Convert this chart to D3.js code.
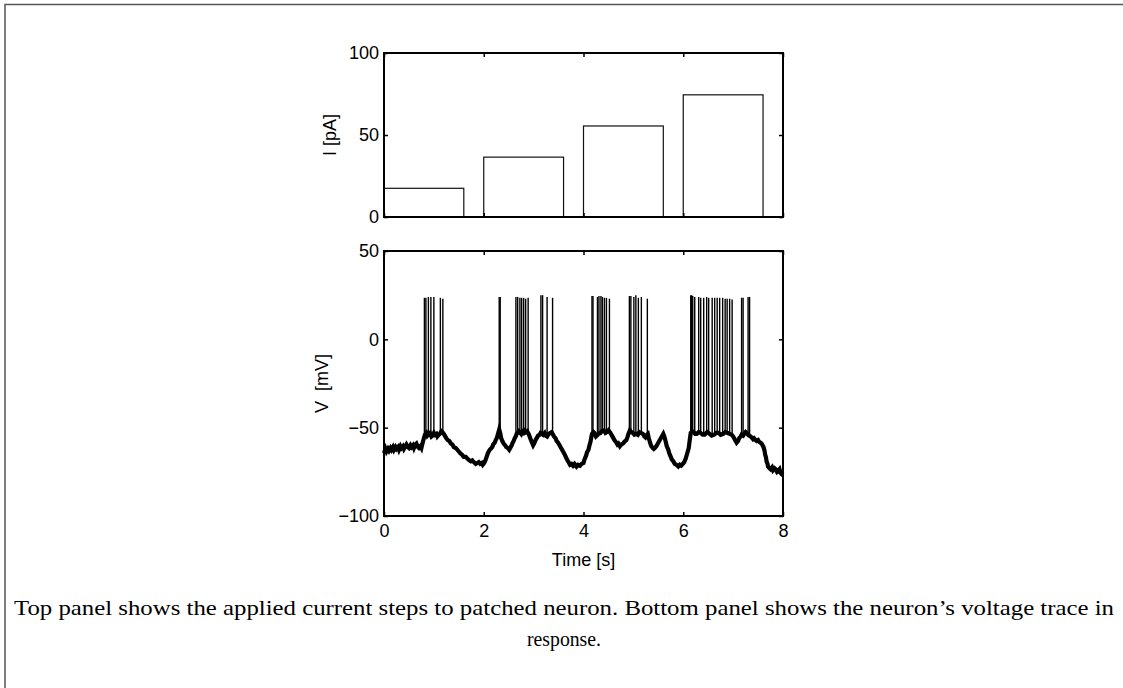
<!DOCTYPE html>
<html>
<head>
<meta charset="utf-8">
<script src="https://cdn.jsdelivr.net/npm/d3@7"></script>
<style>
  body { margin: 0; background: #fff; }
  svg { display: block; }
  text { font-family: "Liberation Sans", Arial, sans-serif; }
</style>
</head>
<body>
<svg id="chart"></svg>
<script>
const width = 1123;
const height = 688;

// Current steps (top panel)
const stepStart = [0, 2, 4, 6];
const stepEnd = [1.6, 3.6, 5.6, 7.6];
const stepCurrent = [17.5, 36.5, 55.5, 74.5];

// Tick values
const timeTicks = [0, 2, 4, 6, 8];
const currentTicks = [0, 50, 100];
const voltTicks = [-100, -50, 0, 50];

// Membrane voltage trace: [time s, voltage mV]
const baseline = [
  [0, -64.5], [0.03, -62], [0.05, -63.5], [0.08, -62], [0.1, -63], [0.13, -61.5], [0.15, -62.5],
  [0.18, -61], [0.2, -62.5], [0.23, -61], [0.25, -62], [0.28, -61], [0.3, -62.5], [0.33, -60.5],
  [0.35, -61.5], [0.38, -60.5], [0.4, -62], [0.43, -60.5], [0.45, -59.5], [0.48, -61], [0.5, -61.5],
  [0.53, -60], [0.55, -61], [0.58, -60], [0.6, -61.5], [0.63, -59.5], [0.65, -59], [0.68, -61],
  [0.7, -61.5], [0.73, -60.5], [0.75, -61.5], [0.78, -58], [0.82, -54], [0.85, -53],
  [0.87, -54.5], [0.9, -53.5], [0.92, -53], [0.95, -55], [0.97, -54.5], [1.0, -53], [1.02, -54],
  [1.05, -53.5], [1.07, -55], [1.1, -54], [1.12, -53.5], [1.15, -52], [1.17, -52.5], [1.2, -53.5],
  [1.22, -54.5], [1.25, -56], [1.28, -57], [1.31, -57.5], [1.34, -59], [1.37, -59.5], [1.40, -61],
  [1.44, -61.5], [1.47, -62.5], [1.50, -63.5], [1.53, -64.5], [1.57, -65.5], [1.60, -66.5],
  [1.64, -66.5], [1.67, -67.5], [1.71, -68.5], [1.74, -69], [1.77, -68.5], [1.80, -69.5],
  [1.84, -70.5], [1.87, -70], [1.90, -69.5], [1.93, -70.5], [1.96, -70], [1.98, -71],
  [2.01, -70], [2.04, -68], [2.07, -65.5], [2.09, -64], [2.12, -62.5], [2.14, -62], [2.17, -61],
  [2.19, -59.5], [2.22, -58.5], [2.24, -57], [2.26, -56], [2.28, -54], [2.31, -51], [2.33, -53],
  [2.35, -56], [2.38, -58], [2.40, -59], [2.43, -60], [2.45, -61], [2.48, -61.5],
  [2.51, -62.5], [2.54, -61], [2.56, -60], [2.58, -58.5], [2.60, -57.5], [2.62, -56], [2.64, -55],
  [2.66, -53.5], [2.68, -53], [2.70, -52], [2.72, -52.5], [2.75, -53.5], [2.77, -52], [2.80, -51.5],
  [2.82, -53], [2.85, -52.5], [2.87, -52], [2.90, -53.5], [2.92, -55], [2.94, -56.5], [2.96, -58],
  [2.99, -60], [3.01, -59], [3.04, -57], [3.07, -55.5], [3.09, -54.5], [3.12, -54], [3.14, -53],
  [3.17, -53.5], [3.19, -54], [3.22, -53], [3.24, -54.5], [3.27, -55], [3.30, -53.5], [3.33, -53],
  [3.36, -52.5], [3.38, -53.5], [3.41, -55], [3.44, -56], [3.46, -57.5], [3.49, -58.5], [3.52, -60],
  [3.55, -61.5], [3.59, -63.5], [3.62, -65], [3.66, -67.5], [3.69, -69], [3.73, -71], [3.76, -70.5],
  [3.79, -71.5], [3.82, -70.5], [3.86, -72], [3.89, -71], [3.93, -71.5], [3.96, -70.5], [4.00, -70],
  [4.02, -68], [4.05, -66], [4.07, -64], [4.10, -62.5], [4.12, -60], [4.14, -58], [4.16, -55],
  [4.17, -53.5], [4.20, -52.5], [4.22, -53], [4.25, -55], [4.27, -54.5], [4.30, -53.5], [4.34, -53],
  [4.37, -52], [4.41, -51.5], [4.44, -53], [4.47, -52.5], [4.50, -51.5], [4.54, -53], [4.57, -54.5],
  [4.59, -55.5], [4.61, -56.5], [4.63, -57.5], [4.66, -58.5], [4.68, -59.5], [4.70, -59],
  [4.73, -60.5], [4.76, -59.5], [4.79, -59], [4.82, -58], [4.86, -57], [4.88, -55.5], [4.90, -53.5],
  [4.93, -51.5], [4.96, -52.5], [4.99, -53], [5.02, -54], [5.06, -53.5], [5.09, -54], [5.12, -52.5],
  [5.15, -53], [5.19, -53.5], [5.22, -55], [5.24, -55.5], [5.27, -54], [5.29, -53.5], [5.31, -56],
  [5.34, -59], [5.36, -60.5], [5.39, -61.5], [5.41, -62], [5.43, -61.5], [5.46, -60.5], [5.48, -59.5],
  [5.51, -58], [5.53, -57], [5.55, -56], [5.57, -55], [5.60, -53.5], [5.62, -55], [5.64, -57],
  [5.67, -60.5], [5.70, -62.5], [5.72, -64.5], [5.75, -66.5], [5.77, -68], [5.80, -69],
  [5.83, -70.5], [5.86, -71], [5.90, -72], [5.93, -71], [5.96, -71.5], [5.99, -70.5], [6.02, -69.5],
  [6.05, -67.5], [6.07, -65.5], [6.09, -63.5], [6.11, -61.5], [6.13, -57], [6.15, -53], [6.18, -52],
  [6.21, -52.5], [6.24, -53.5], [6.27, -53.5], [6.31, -52.5], [6.35, -53], [6.39, -54], [6.43, -54],
  [6.48, -52.5], [6.53, -53.5], [6.57, -54.5], [6.62, -54], [6.66, -53], [6.71, -53], [6.75, -54],
  [6.80, -53.5], [6.84, -52.5], [6.89, -53], [6.93, -53.5], [6.97, -54], [7.00, -55], [7.02, -56],
  [7.05, -57.5], [7.07, -58.5], [7.10, -57.5], [7.12, -56], [7.15, -55], [7.17, -54], [7.20, -54.5],
  [7.22, -53.5], [7.25, -52.5], [7.27, -53], [7.30, -54], [7.32, -54.5], [7.35, -55], [7.37, -55.5],
  [7.40, -56.5], [7.42, -56], [7.45, -57], [7.47, -57.5], [7.50, -57], [7.52, -58], [7.55, -58.5],
  [7.57, -59], [7.59, -60], [7.61, -61], [7.63, -63], [7.64, -65], [7.66, -67], [7.67, -69],
  [7.69, -70.5], [7.70, -72], [7.73, -73], [7.75, -73.5], [7.78, -72.5], [7.80, -74], [7.83, -73],
  [7.85, -73.5], [7.88, -75], [7.90, -74.5], [7.93, -73.5], [7.95, -75.5], [7.98, -76.5], [8.0, -77]
];

// Action potentials: time and peak voltage
const spikeTimes = [
  0.81, 0.84, 0.89, 0.94, 1.00, 1.13, 1.18,
  2.31, 2.33,
  2.645, 2.68, 2.725, 2.76, 2.80, 2.84, 2.89,
  3.146, 3.18, 3.27, 3.38,
  4.17, 4.19, 4.28, 4.31, 4.35, 4.38, 4.42, 4.46, 4.52,
  4.92, 4.95, 5.01, 5.05, 5.10, 5.16, 5.28,
  6.15, 6.17, 6.19, 6.23, 6.31, 6.35, 6.41, 6.47, 6.51, 6.58, 6.63, 6.68, 6.73, 6.79, 6.84, 6.88, 6.93, 6.98,
  7.17, 7.20, 7.30, 7.33
];
const spikePeaks = [
  23.5, 23.5, 24, 24, 24, 23.5, 23,
  24, 24,
  24, 24, 23.5, 23.5, 23.5, 23, 23.5,
  25, 25, 24, 23.5,
  24.5, 24.5, 24, 24.5, 24.5, 24, 23.5, 23.5, 23,
  24.5, 24.5, 24, 25, 23.5, 24, 23,
  25, 25, 24.5, 24, 24, 23.5, 23.5, 24, 23.5, 23.5, 23.5, 23.5, 23.5, 23.5, 23, 23, 23, 22.5,
  23.5, 23.5, 24, 24
];

const svg = d3.select("#chart")
    .attr("width", width)
    .attr("height", height);

// Page frame
svg.append("path")
    .attr("d", "M5,688 V4.5 H1123")
    .attr("fill", "none")
    .attr("stroke", "#555")
    .attr("stroke-width", 1.5);

const x = d3.scaleLinear().domain([0, 8]).range([384, 783]);
const yI = d3.scaleLinear().domain([0, 100]).range([217, 53]);
const yV = d3.scaleLinear().domain([-100, 50]).range([516, 251]);

const tickFont = 18;

// ---------- top panel: current steps ----------
const topPanel = svg.append("g");

topPanel.selectAll("rect.step")
    .data(stepCurrent)
    .enter()
    .append("rect")
    .attr("class", "step")
    .attr("x", (d, i) => x(stepStart[i]))
    .attr("width", (d, i) => x(stepEnd[i]) - x(stepStart[i]))
    .attr("y", d => yI(d))
    .attr("height", d => yI(0) - yI(d))
    .attr("fill", "none")
    .attr("stroke", "#111")
    .attr("stroke-width", 1.2);

function boxAxes(g, yScale, yTicks, showX) {
    const [x0, x1] = x.range();
    const [yb, yt] = yScale.range();

    g.append("g")
        .attr("transform", `translate(${x0},0)`)
        .call(d3.axisLeft(yScale).tickValues(yTicks).tickSizeInner(-4).tickSizeOuter(0).tickPadding(5))
        .call(a => a.select(".domain").remove())
        .call(a => a.selectAll("text").attr("font-size", tickFont).attr("font-family", "Liberation Sans").attr("fill", "#000"));

    g.append("g")
        .attr("transform", `translate(${x1},0)`)
        .call(d3.axisRight(yScale).tickValues(yTicks).tickSizeInner(-4).tickSizeOuter(0).tickFormat(""))
        .call(a => a.select(".domain").remove());

    const bottom = g.append("g")
        .attr("transform", `translate(0,${yb})`)
        .call(d3.axisBottom(x).tickValues(timeTicks).tickSizeInner(-4).tickSizeOuter(0).tickPadding(8)
            .tickFormat(showX ? d3.format("d") : ""))
        .call(a => a.select(".domain").remove());
    bottom.selectAll("text").attr("font-size", tickFont).attr("font-family", "Liberation Sans").attr("fill", "#000");

    g.append("g")
        .attr("transform", `translate(0,${yt})`)
        .call(d3.axisTop(x).tickValues(timeTicks).tickSizeInner(-4).tickSizeOuter(0).tickFormat(""))
        .call(a => a.select(".domain").remove());

    g.selectAll(".tick line").attr("stroke", "#000").attr("stroke-width", 1.5);

    g.append("rect")
        .attr("x", x0).attr("y", yt)
        .attr("width", x1 - x0).attr("height", yb - yt)
        .attr("fill", "none")
        .attr("stroke", "#000")
        .attr("stroke-width", 2);
}

boxAxes(topPanel, yI, currentTicks, false);

topPanel.append("text")
    .attr("transform", `translate(336,${(yI(0) + yI(100)) / 2}) rotate(-90)`)
    .attr("text-anchor", "middle")
    .attr("font-size", tickFont)
    .text("I [pA]");

// ---------- bottom panel: voltage trace ----------
const botPanel = svg.append("g");

const line = d3.line()
    .x(d => x(d[0]))
    .y(d => yV(d[1]));

botPanel.append("path")
    .datum(baseline)
    .attr("d", line)
    .attr("fill", "none")
    .attr("stroke", "#000")
    .attr("stroke-width", 4.2)
    .attr("stroke-linejoin", "miter");

// spike foot sits on the trace at that time
const traceAt = d3.scaleLinear()
    .domain(baseline.map(d => d[0]))
    .range(baseline.map(d => d[1]));

botPanel.selectAll("line.spike")
    .data(spikeTimes)
    .enter()
    .append("line")
    .attr("class", "spike")
    .attr("x1", d => x(d))
    .attr("x2", d => x(d))
    .attr("y1", d => yV(traceAt(d)))
    .attr("y2", (d, i) => yV(spikePeaks[i]))
    .attr("stroke", "#000")
    .attr("stroke-width", 1.4);

boxAxes(botPanel, yV, voltTicks, true);

botPanel.append("text")
    .attr("transform", `translate(328,${(yV(-100) + yV(50)) / 2}) rotate(-90)`)
    .attr("text-anchor", "middle")
    .attr("font-size", tickFont)
    .style("white-space", "pre")
    .text("V  [mV]");

botPanel.append("text")
    .attr("x", (x(0) + x(8)) / 2)
    .attr("y", 566)
    .attr("text-anchor", "middle")
    .attr("font-size", tickFont)
    .text("Time [s]");

// ---------- caption ----------
const caption = svg.append("g")
    .attr("font-size", 21);

caption.append("text")
    .attr("x", 14)
    .attr("y", 615)
    .attr("textLength", 1100)
    .attr("lengthAdjust", "spacingAndGlyphs")
    .style("font-family", "'Liberation Serif', serif")
    .text("Top panel shows the applied current steps to patched neuron. Bottom panel shows the neuron\u2019s voltage trace in");

caption.append("text")
    .attr("x", 527)
    .attr("y", 646)
    .attr("textLength", 74)
    .attr("lengthAdjust", "spacingAndGlyphs")
    .style("font-family", "'Liberation Serif', serif")
    .text("response.");
</script>
</body>
</html>
